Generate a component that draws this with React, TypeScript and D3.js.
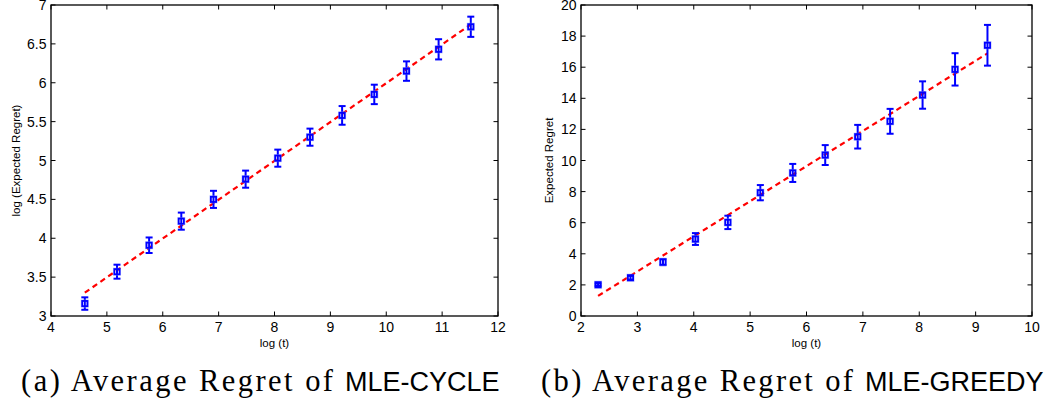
import React from "react";
import * as d3 from "d3";

// ---------- data ----------
const leftX = [4.605, 5.181, 5.756, 6.332, 6.908, 7.483, 8.059, 8.635, 9.21, 9.786, 10.362, 10.937, 11.513];
const leftY = [3.16, 3.57, 3.91, 4.22, 4.5, 4.76, 5.03, 5.3, 5.58, 5.85, 6.15, 6.43, 6.72];
const leftErr = [0.08, 0.09, 0.1, 0.11, 0.11, 0.11, 0.11, 0.11, 0.12, 0.125, 0.125, 0.13, 0.13];
const leftFitX = [4.605, 11.513];
const leftFitY = [3.3, 6.75];
const leftXTicks = [4, 5, 6, 7, 8, 9, 10, 11, 12];
const leftYTicks = [3, 3.5, 4, 4.5, 5, 5.5, 6, 6.5, 7];

const rightX = [2.303, 2.878, 3.454, 4.03, 4.605, 5.181, 5.756, 6.332, 6.908, 7.483, 8.059, 8.635, 9.21];
const rightY = [2.01, 2.46, 3.47, 4.95, 6.02, 7.93, 9.2, 10.35, 11.53, 12.52, 14.21, 15.86, 17.41];
const rightErr = [0.08, 0.12, 0.2, 0.38, 0.43, 0.49, 0.58, 0.64, 0.76, 0.8, 0.88, 1.04, 1.31];
const rightFitX = [2.303, 9.21];
const rightFitY = [1.29, 16.89];
const rightXTicks = [2, 3, 4, 5, 6, 7, 8, 9, 10];
const rightYTicks = [0, 2, 4, 6, 8, 10, 12, 14, 16, 18, 20];

const SANS = "'Liberation Sans', Arial, Helvetica, sans-serif";
const SERIF = "'Liberation Serif', 'Times New Roman', serif";

type PanelProps = {
  x0: number; x1: number; y0: number; y1: number;
  xDomain: [number, number]; yDomain: [number, number];
  xTicks: number[]; yTicks: number[];
  xs: number[]; ys: number[]; errs: number[];
  fitX: number[]; fitY: number[];
  yLabel: string; yLabelX: number;
  caption: string; capSans: string; capX: number;
};

function Panel(p: PanelProps) {
  const x = d3.scaleLinear().domain(p.xDomain).range([p.x0, p.x1]);
  const y = d3.scaleLinear().domain(p.yDomain).range([p.y1, p.y0]);
  const tl = 4.5;
  const fit = d3.line<number>().x((_, i) => x(p.fitX[i])).y((d) => y(d));
  const fmt = (v: number) => String(v);
  return (
    <g>
      <path d={fit(p.fitY) || ""} fill="none" stroke="#ff0000" strokeWidth={2.2} strokeDasharray="5.5,4" />
      {p.xs.map((xv, i) => {
        const cx = x(xv);
        const yt = y(p.ys[i] + p.errs[i]);
        const yb = y(p.ys[i] - p.errs[i]);
        const cy = y(p.ys[i]);
        return (
          <g key={i} stroke="#0000ff" fill="none">
            <line x1={cx} x2={cx} y1={yt} y2={yb} strokeWidth={2} />
            <line x1={cx - 3.5} x2={cx + 3.5} y1={yt} y2={yt} strokeWidth={2} />
            <line x1={cx - 3.5} x2={cx + 3.5} y1={yb} y2={yb} strokeWidth={2} />
            <rect x={cx - 3.5} y={cy - 3.5} width={7} height={7} stroke="#7f8fff" strokeWidth={1} strokeOpacity={0.6} />
            <rect x={cx - 2.6} y={cy - 2.6} width={5.2} height={5.2} strokeWidth={1.8} />
          </g>
        );
      })}
      <rect x={p.x0} y={p.y0} width={p.x1 - p.x0} height={p.y1 - p.y0} fill="none" stroke="#000" strokeWidth={1.3} />
      {p.xTicks.map((t) => (
        <g key={"xt" + t}>
          <line x1={x(t)} x2={x(t)} y1={p.y1} y2={p.y1 - tl} stroke="#000" strokeWidth={1} />
          <line x1={x(t)} x2={x(t)} y1={p.y0} y2={p.y0 + tl} stroke="#000" strokeWidth={1} />
          <text x={x(t)} y={p.y1 + 16} textAnchor="middle" fontFamily={SANS} fontSize={14} fill="#000">{fmt(t)}</text>
        </g>
      ))}
      {p.yTicks.map((t) => (
        <g key={"yt" + t}>
          <line x1={p.x0} x2={p.x0 + tl} y1={y(t)} y2={y(t)} stroke="#000" strokeWidth={1} />
          <line x1={p.x1} x2={p.x1 - tl} y1={y(t)} y2={y(t)} stroke="#000" strokeWidth={1} />
          <text x={p.x0 - 4.5} y={y(t) + 5} textAnchor="end" fontFamily={SANS} fontSize={14} fill="#000">{fmt(t)}</text>
        </g>
      ))}
      <text x={(p.x0 + p.x1) / 2} y={p.y1 + 30.5} textAnchor="middle" fontFamily={SANS} fontSize={11.5} fill="#000">log (t)</text>
      <text transform={`translate(${p.yLabelX},${(p.y0 + p.y1) / 2}) rotate(-90)`} textAnchor="middle" fontFamily={SANS} fontSize={11.5} fill="#000">{p.yLabel}</text>
      <text x={p.capX} y={391} fontFamily={SERIF} fontSize={30.5} fill="#000" textLength={312} lengthAdjust="spacing">{p.caption}</text>
      <text x={p.capX + 324} y={391} fontFamily={SANS} fontSize={27} fill="#000">{p.capSans}</text>
    </g>
  );
}

export default function App() {
  return (
    <svg width={1045} height={406} style={{ position: "absolute", left: 0, top: 0, background: "#fff" }}>
      <rect width={1045} height={406} fill="#fff" />
      <Panel
        x0={51} x1={498} y0={5} y1={316}
        xDomain={[4, 12]} yDomain={[3, 7]}
        xTicks={leftXTicks} yTicks={leftYTicks}
        xs={leftX} ys={leftY} errs={leftErr}
        fitX={leftFitX} fitY={leftFitY}
        yLabel="log (Expected Regret)" yLabelX={19.5}
        caption="(a) Average Regret of" capSans="MLE-CYCLE" capX={21}
      />
      <Panel
        x0={581} x1={1032} y0={5} y1={316}
        xDomain={[2, 10]} yDomain={[0, 20]}
        xTicks={rightXTicks} yTicks={rightYTicks}
        xs={rightX} ys={rightY} errs={rightErr}
        fitX={rightFitX} fitY={rightFitY}
        yLabel="Expected Regret" yLabelX={552.5}
        caption="(b) Average Regret of" capSans="MLE-GREEDY" capX={541}
      />
    </svg>
  );
}
